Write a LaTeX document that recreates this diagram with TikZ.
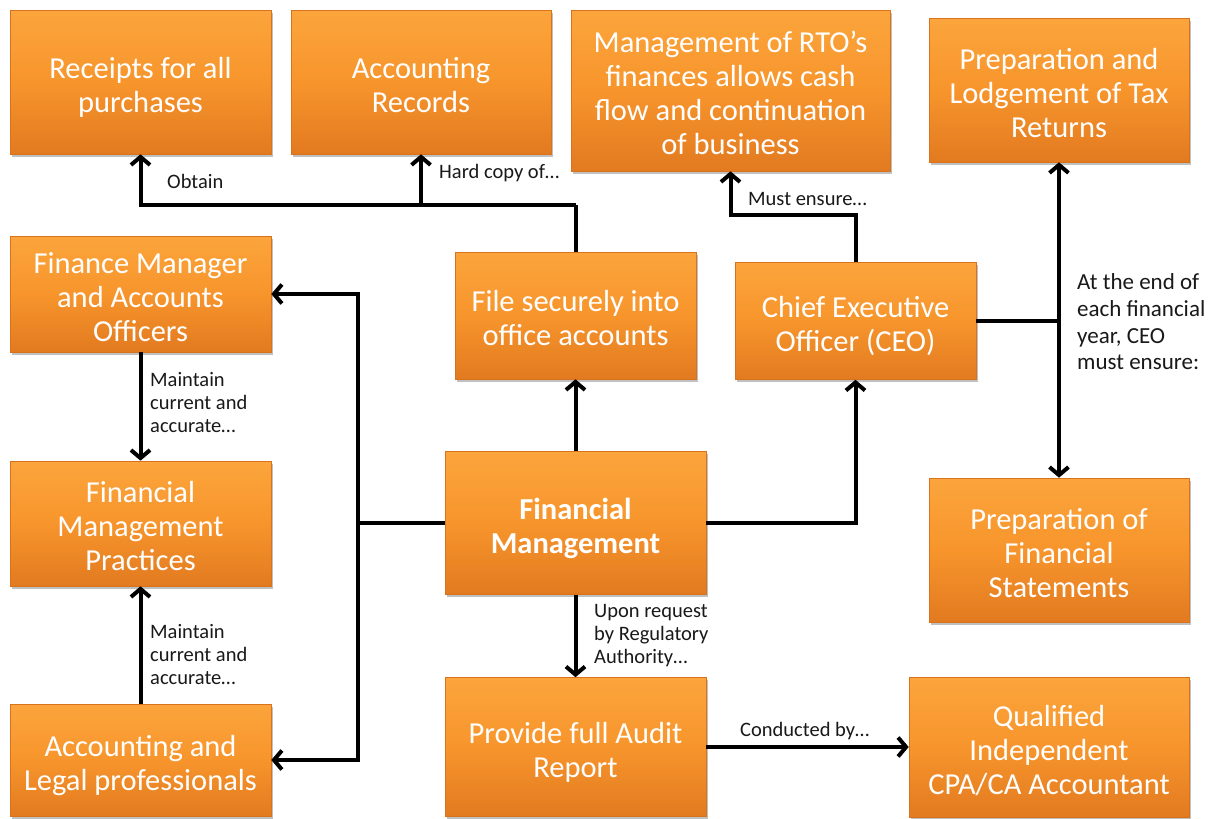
\documentclass[tikz,border=0pt]{standalone}
\usepackage{fontspec}
\setmainfont{Carlito}
\usetikzlibrary{arrows.meta,shadows}
\definecolor{boxtop}{HTML}{FBA53C}
\definecolor{boxmid}{HTML}{F7952C}
\definecolor{boxbot}{HTML}{E27A20}
\definecolor{boxedge}{HTML}{D9721C}
\tikzset{
  box/.style={rectangle, draw=boxedge, line width=0.6pt,
    top color=boxtop, bottom color=boxbot, middle color=boxmid,
    text=white, align=center, inner sep=0pt,
    font=\fontsize{30.5}{34}\selectfont,
    drop shadow={shadow xshift=2pt, shadow yshift=-2.5pt, opacity=0.35, fill=black!70}},
  % fixed text box height per number of lines, so all lines sit evenly
  lines2/.style={text height=60pt, text depth=0pt},
  lines3/.style={text height=94pt, text depth=0pt},
  lines4/.style={text height=128pt, text depth=0pt},
  link/.style={line width=4pt, draw=black},
  arr/.style={link, -{Straight Barb[length=8pt,width=19pt]}},
  biarr/.style={link, {Straight Barb[length=8pt,width=19pt]}-{Straight Barb[length=8pt,width=19pt]}},
  note/.style={font=\fontsize{20.5}{23}\selectfont, align=left, inner sep=0pt, text=black!90}
}
\begin{document}
\begin{tikzpicture}[x=1pt,y=-1pt]
\useasboundingbox (0,0) rectangle (1213,819);
\fill[white] (0,0) rectangle (1213,819);

% boxes
\node[box, lines2, minimum width=261pt, minimum height=144pt] (rec) at (140.5,82) {Receipts for all\\purchases};
\node[box, lines2, minimum width=260pt, minimum height=144pt] (accr) at (421,82) {Accounting\\Records};
\node[box, lines4, minimum width=319pt, minimum height=161pt] (rto) at (730.5,90.5) {Management of RTO’s\\finances allows cash\\flow and continuation\\of business};
\node[box, lines3, minimum width=260pt, minimum height=144pt] (tax) at (1059,90) {Preparation and\\Lodgement of Tax\\Returns};
\node[box, lines3, minimum width=261pt, minimum height=116pt] (fmgr) at (140.5,294) {Finance Manager\\and Accounts\\Officers};
\node[box, lines2, minimum width=241pt, minimum height=127pt] (file) at (575.5,315.5) {File securely into\\office accounts};
\node[box, lines2, minimum width=241pt, minimum height=117pt] (ceo) at (855.5,321) {Chief Executive\\Officer (CEO)};
\node[box, lines3, minimum width=261pt, minimum height=125pt] (fmp) at (140.5,523.5) {Financial\\Management\\Practices};
\node[box, lines2, minimum width=261pt, minimum height=143pt, font=\fontsize{30.5}{34}\selectfont\bfseries] (fm) at (575.5,523) {Financial\\Management};
\node[box, lines3, minimum width=260pt, minimum height=144pt] (fs) at (1059,550) {Preparation of\\Financial\\Statements};
\node[box, lines2, minimum width=261pt, minimum height=112pt] (alp) at (140.5,760) {Accounting and\\Legal professionals};
\node[box, lines2, minimum width=261pt, minimum height=139pt] (aud) at (575.5,747) {Provide full Audit\\Report};
\node[box, lines3, minimum width=280pt, minimum height=140pt] (cpa) at (1049,747) {Qualified\\Independent\\CPA/CA Accountant};

% junction points
\coordinate (jtop) at (575.5,205);
\coordinate (jceo) at (855.5,215);
\coordinate (jright) at (1059,321);
\coordinate (jleft) at (358,523);

% File securely -> records
\draw[link] (file.north) -- (jtop);
\draw[arr] (jtop) -| (rec.south);
\draw[arr] (jtop) -| (accr.south);
\node[note, anchor=west] (lobtain) at (167,181) {Obtain};
\node[note, anchor=west] (lhard) at (439,173) {Hard copy of…};

% CEO -> RTO finances
\draw[arr] (ceo.north) -- (jceo) -| (rto.south);
\node[note, anchor=west] (lmust) at (748,199) {Must ensure…};

% CEO -> end-of-year duties
\draw[link] (ceo.east) -- (jright);
\draw[biarr] (tax.south) -- (fs.north);
\node[note, anchor=west, font=\fontsize{23}{26.7}\selectfont] (lend) at (1077,322) {At the end of\\each financial\\year, CEO\\must ensure:};

% Financial Management outward links
\draw[arr] (fm.north) -- (file.south);
\draw[arr] (fm.east) -| (ceo.south);
\draw[link] (fm.west) -- (jleft);
\draw[arr] (jleft) |- (fmgr.east);
\draw[arr] (jleft) |- (alp.east);
\draw[arr] (fm.south) -- (aud.north);
\node[note, anchor=west] (lupon) at (594,636) {Upon request\\by Regulatory\\Authority…};

% left column
\draw[arr] (fmgr.south) -- (fmp.north);
\node[note, anchor=west] (lmain1) at (150,403) {Maintain\\current and\\accurate…};
\draw[arr] (alp.north) -- (fmp.south);
\node[note, anchor=west] (lmain2) at (150,655) {Maintain\\current and\\accurate…};

% audit
\draw[arr] (aud.east) -- (cpa.west);
\node[note, anchor=west] (lcond) at (740,731) {Conducted by…};
\end{tikzpicture}
\end{document}
